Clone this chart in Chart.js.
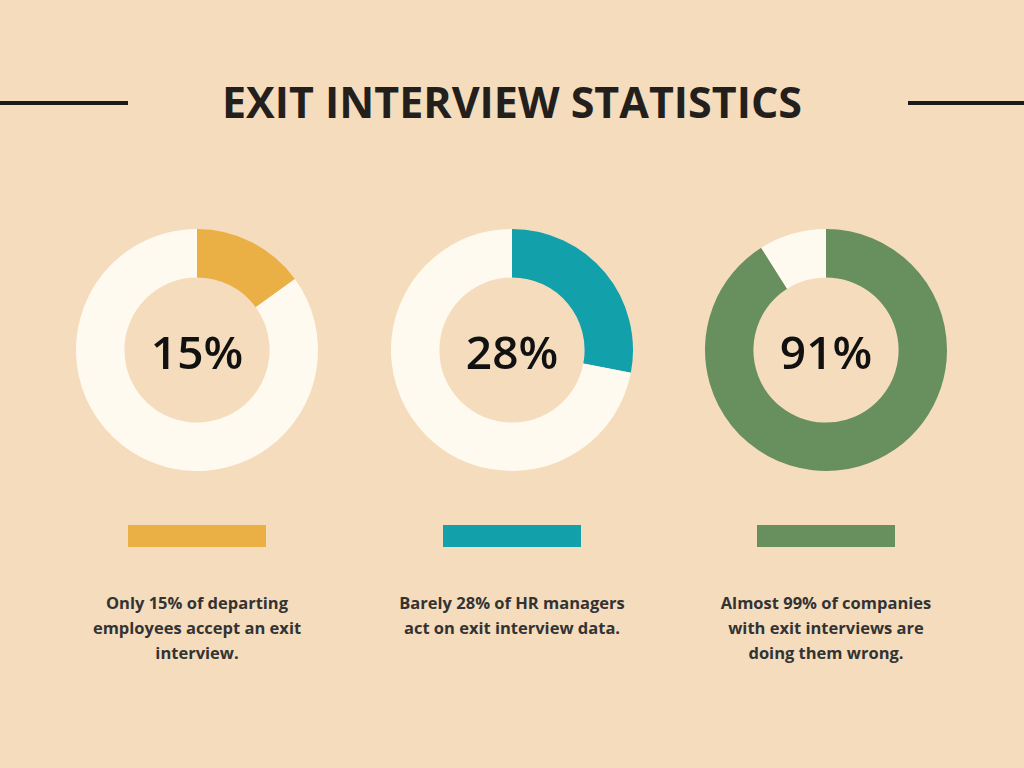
<!DOCTYPE html>
<html><head><meta charset="utf-8">
<script src="https://cdn.jsdelivr.net/npm/chart.js@4"></script>
<style>
body{margin:0;width:1024px;height:768px;background:#f5dcbd;font-family:"Open Sans",sans-serif;position:relative;overflow:hidden}
.abs{position:absolute}
h1{position:absolute;top:72px;left:0;width:1024px;margin:0;text-align:center;font-size:43px;font-weight:700;color:#231f1c;letter-spacing:0}
.rule{position:absolute;top:101px;height:4px;background:#1a1a1a}
.box{position:absolute;top:225px;width:250px;height:250px}
.pct{position:absolute;top:320px;width:250px;text-align:center;font-size:46px;font-weight:600;color:#111}
.bar{position:absolute;top:525px;width:138px;height:22px}
.cap{position:absolute;top:590px;width:280px;text-align:center;font-size:16.5px;font-weight:700;color:#333;line-height:25px}
</style></head><body>
<h1>EXIT INTERVIEW STATISTICS</h1>
<div class="rule" style="left:0;width:128px"></div>
<div class="rule" style="left:908px;width:116px"></div>
<div id="wrap"></div>
<script>
// values
const labels = ['15%', '28%', '91%'];
const values = [15, 28, 91];
const colors = ['#eab045', '#12a0ab', '#688f5e'];
const captions = [
  'Only 15% of departing<br>employees accept an exit<br>interview.',
  'Barely 28% of HR managers<br>act on exit interview data.',
  'Almost 99% of companies<br>with exit interviews are<br>doing them wrong.'
];
const centers = [197, 512, 826];
const rest = '#fffaf0';

const wrap = document.getElementById('wrap');
values.forEach(function (v, i) {
  const cx = centers[i];
  const box = document.createElement('div');
  box.className = 'box';
  box.style.left = (cx - 125) + 'px';
  const cv = document.createElement('canvas');
  box.appendChild(cv);
  wrap.appendChild(box);
  new Chart(cv, {
    type: 'doughnut',
    data: {
      labels: ['yes', 'no'],
      datasets: [{ data: [v, 100 - v], backgroundColor: [colors[i], rest], borderWidth: 0 }]
    },
    options: {
      responsive: true, maintainAspectRatio: false, animation: false,
      cutout: '60%', radius: 121,
      plugins: { legend: { display: false }, tooltip: { enabled: false } }
    }
  });
  const p = document.createElement('div');
  p.className = 'pct';
  p.style.left = (cx - 125) + 'px';
  p.textContent = labels[i];
  wrap.appendChild(p);
  const b = document.createElement('div');
  b.className = 'bar';
  b.style.left = (cx - 69) + 'px';
  b.style.background = colors[i];
  wrap.appendChild(b);
  const c = document.createElement('div');
  c.className = 'cap';
  c.style.left = (cx - 140) + 'px';
  c.innerHTML = captions[i];
  wrap.appendChild(c);
});
</script>
</body></html>
